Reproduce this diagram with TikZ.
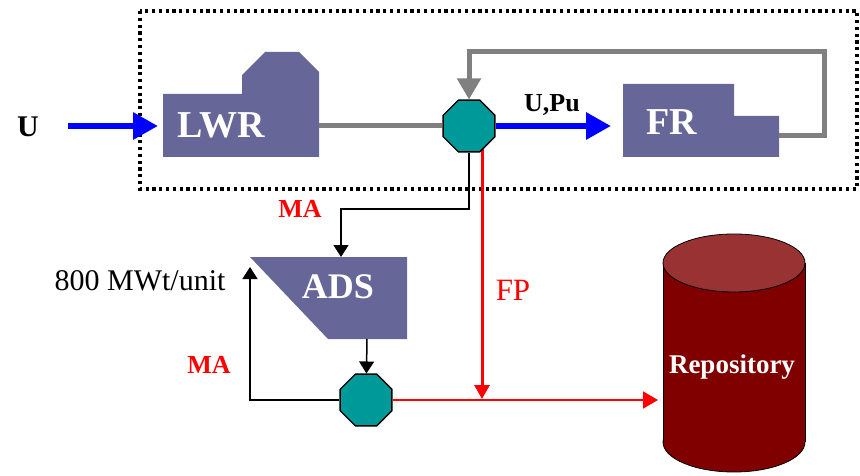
\documentclass[tikz,border=0pt]{standalone}
\usepackage{fontspec}
\setmainfont{Liberation Serif}
\usetikzlibrary{shapes.geometric, arrows.meta, positioning}
\definecolor{unitblue}{RGB}{102,102,153}
\definecolor{splitteal}{RGB}{0,153,153}
\definecolor{repored}{RGB}{128,0,0}
\definecolor{repotop}{RGB}{153,51,51}
\definecolor{loopgray}{RGB}{128,128,128}

\begin{document}
\begin{tikzpicture}[
  x=1pt, y=-1pt,
  unit/.style={fill=unitblue},
  unitname/.style={anchor=base, text=white, font=\fontsize{38}{38}\selectfont\bfseries},
  splitter/.style={regular polygon, regular polygon sides=8, minimum size=56pt, inner sep=0pt, fill=splitteal, draw=black, line width=1.3pt},
  flowlabel/.style={anchor=base, font=\fontsize{26}{26}\selectfont\bfseries},
  bluearrow/.style={blue, line width=6pt, -{Triangle[length=25pt,width=26pt]}},
  grayline/.style={loopgray, line width=5pt},
  grayarrow/.style={grayline, -{Triangle[length=21pt,width=23pt]}},
  thinarrow/.style={black, line width=1.5pt, -{Triangle[length=12pt,width=15pt]}},
  redarrow/.style={red, -{Triangle[length=15pt,width=17pt]}}
]
\useasboundingbox (0,0) rectangle (860,476);
\draw[line width=3.2pt, dash pattern=on 3.2pt off 3.6pt] (140,11) rectangle (857,189);

\fill[unit] (163,157) -- (163,94) -- (242,94) -- (242,75) -- (265,52) -- (299,52) -- (319,72) -- (319,157) -- cycle;
\fill[unit] (623,157) -- (623,84) -- (734,84) -- (734,116) -- (779,116) -- (779,157) -- cycle;
\fill[unit] (250,257) -- (407,257) -- (407,339) -- (328,339) -- cycle;

\filldraw[fill=repored, draw=black, thick] (734,442) ellipse [x radius=71pt, y radius=30pt];
\fill[repored] (663,263) rectangle (805,442);
\draw[thick] (663,263) -- (663,442) (805,263) -- (805,442);
\filldraw[fill=repotop, draw=black, thick] (734,263) ellipse [x radius=71pt, y radius=29pt];

\coordinate (usrc) at (68,126);
\coordinate (lwrin) at (163,126);
\coordinate (lwrout) at (319,126);
\coordinate (frin) at (623,126);
\coordinate (frout) at (779,136);
\coordinate (loopcorner) at (824,52);
\coordinate (macorner) at (341,209);
\coordinate (adsin) at (341,257);
\coordinate (adsout) at (367,339);
\coordinate (adsret) at (250,267);
\coordinate (fpsrc) at (482,140);
\coordinate (fpjoin) at (482,399);
\coordinate (repoin) at (663,400);

\draw [red, line width=3pt, -{Triangle[length=14pt,width=15pt]}] (fpsrc) -- (fpjoin);

\node (sep1) [splitter] at (469,126) {};
\node (sep2) [splitter] at (366,400) {};

\node (uin) [flowlabel, font=\fontsize{30}{30}\selectfont\bfseries] at (28,137) {U};
\node (lwr) [unitname] at (221,138) {LWR};
\node (fr) [unitname] at (672,135) {FR};
\node (ads) [unitname, font=\fontsize{36}{36}\selectfont\bfseries] at (338,298) {ADS};
\node (repo) [unitname, font=\fontsize{27}{27}\selectfont\bfseries] at (732,373) {Repository};
\node (upu) [flowlabel] at (552,112) {U,Pu};
\node (ma1) [flowlabel, red] at (300,218) {MA};
\node (fp) [flowlabel, red, font=\fontsize{31}{31}\selectfont] at (513,300) {FP};
\node (ma2) [flowlabel, red] at (209,373) {MA};
\node (rating) [anchor=base, font=\fontsize{30}{30}\selectfont] at (140,290) {800 MWt/unit};

\draw [bluearrow, shorten >=5pt] (usrc) -- (lwrin);
\draw [grayline] (lwrout) -- (sep1);
\draw [bluearrow, shorten >=12pt] (sep1) -- (frin);
\draw [grayarrow] (frout) -| (loopcorner) -| (sep1);
\draw [thinarrow] (sep1) |- (macorner) -- (adsin);
\draw [thinarrow] (adsout) -- (sep2);
\draw [thinarrow] (sep2) -| (adsret);
\draw [redarrow, line width=1.6pt, shorten >=5pt] (sep2) -- (repoin);
\end{tikzpicture}
\end{document}
